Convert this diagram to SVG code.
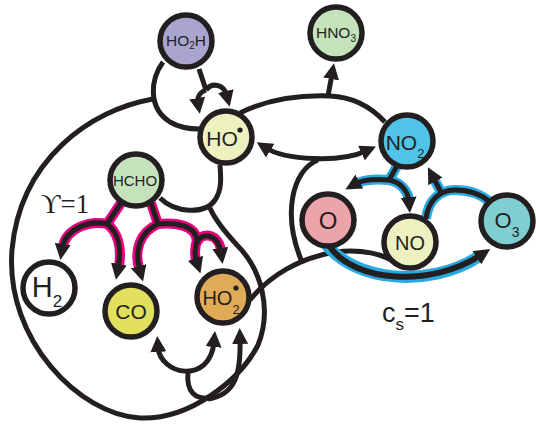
<svg xmlns="http://www.w3.org/2000/svg" width="536" height="425" viewBox="0 0 536 425">
<defs>
<marker id="ah" viewBox="0 0 16 16" refX="5" refY="8" markerWidth="16" markerHeight="16" markerUnits="userSpaceOnUse" orient="auto-start-reverse">
<path d="M0,0 L16,8 L0,16 Z" fill="#231f20"/>
</marker>
</defs>
<style>
.ln{fill:none;stroke:#231f20;stroke-width:5}
.thick{fill:none;stroke:#231f20;stroke-width:6}
.pk{fill:none;stroke:#e6007e;stroke-width:10}
.bl{fill:none;stroke:#27aae1;stroke-width:10}
.bl2{fill:none;stroke:#27aae1;stroke-width:12}
.end{marker-end:url(#ah)}
.start{marker-start:url(#ah)}
.both{marker-start:url(#ah);marker-end:url(#ah)}
.nd{stroke:#231f20;stroke-width:5.5}
.t{font-family:"Liberation Sans",Arial,sans-serif;fill:#231f20}
</style>
<g id="connectors">
<path class="ln" d="M163,62 C150,80 148,108 170,122 C180,128 190,129 200,129"/>
<path class="ln" d="M153,99 C90,110 20,160 12,250 C5,340 80,415 140,418 C190,420 240,380 258,345 C272,310 262,270 237,245 C225,232 215,220 210,208"/>
<path class="ln" d="M160,198 C175,213 205,215 215,200 C222,190 221,178 220,165"/>
<path class="ln" d="M240,113 C270,98 300,95 330,96 C355,97 372,108 385,122"/>
<path class="ln end" d="M328,96 L332,74"/>
<path class="ln both" d="M266,148 C285,160 340,163 366,151"/>
<path class="ln" d="M318,160 C292,170 282,215 302,262"/>
<path class="ln" d="M250,300 C270,275 300,258 335,252 C360,249 380,253 395,262"/>
<path class="ln both" d="M158,347 C160,375 210,385 214,342"/>
<path class="ln" d="M188,372 C186,392 195,400 212,398"/>
<path class="ln start" d="M240,339 C241,375 235,395 208,399"/>
<path class="ln" d="M199,69 L206,90"/>
<path class="ln end" d="M206,90 C212,82 224,84 227,96"/>
<path class="ln end" d="M206,90 C200,92 197,97 198,103"/>
<g>
<path class="pk" d="M121,203 L107,224"/>
<path class="pk" d="M107,224 C90,220 67,228 63,246"/>
<path class="pk" d="M107,224 C118,232 122,248 119,266"/>
<path class="pk" d="M151,203 L158,224"/>
<path class="pk" d="M158,224 C140,232 134,250 139,268"/>
<path class="pk" d="M158,224 C175,222 195,225 197,240"/>
<path class="pk" d="M197,240 C194,250 195,256 196,260"/>
<path class="pk" d="M197,243 C200,232 218,232 221,250"/>
</g>
<g>
<path class="ln" d="M121,203 L107,224"/>
<path class="ln end" d="M107,224 C90,220 65,228 62,249"/>
<path class="ln end" d="M107,224 C118,232 122,248 118,269"/>
<path class="ln" d="M151,203 L158,224"/>
<path class="ln end" d="M158,224 C140,232 134,250 140,271"/>
<path class="ln" d="M158,224 C175,222 195,225 197,240"/>
<path class="ln end" d="M197,240 C194,252 195,257 197,263"/>
<path class="ln end" d="M197,243 C200,232 218,232 221,253"/>
</g>
<g>
<path class="bl" d="M397,166 L389,180"/>
<path class="bl" d="M389,180 C375,179 364,180 358,183"/>
<path class="bl" d="M389,180 C400,182 407,190 409,199"/>
<path class="bl" d="M426,219 C428,200 440,190 455,190 C470,190 482,195 490,202"/>
<path class="bl" d="M441,192 L435,181"/>
<path class="bl2" d="M326,244 C355,282 430,288 478,257"/>
</g>
<g>
<path class="ln" d="M397,166 L389,180"/>
<path class="ln end" d="M389,180 C375,179 362,180 355,184"/>
<path class="ln end" d="M389,180 C400,182 408,190 409,202"/>
<path class="ln" d="M426,219 C428,200 440,190 455,190 C470,190 482,195 490,202"/>
<path class="ln end" d="M441,192 L433,177"/>
<path class="thick end" d="M330,247 C355,282 430,288 481,255"/>
</g>
</g>
<g id="HO2H"><circle class="nd" cx="186" cy="41" r="26" fill="#a9a5cf"/><text class="t" x="186" y="46" font-size="15.5" text-anchor="middle">HO<tspan font-size="10" dy="3">2</tspan><tspan dy="-3">H</tspan></text></g>
<g id="HNO3"><circle class="nd" cx="336" cy="33" r="26" fill="#c5e3bb"/><text class="t" x="336" y="38" font-size="15.5" text-anchor="middle">HNO<tspan font-size="10" dy="4">3</tspan></text></g>
<g id="HO"><circle class="nd" cx="226" cy="137" r="26" fill="#ecf1bf"/><text class="t" x="222" y="146" font-size="21" text-anchor="middle">HO</text><circle cx="240" cy="130" r="2.6" fill="#231f20"/></g>
<g id="NO2"><circle class="nd" cx="407" cy="141" r="26" fill="#4fc4e8"/><text class="t" x="405" y="150" font-size="21" text-anchor="middle">NO<tspan font-size="13" dy="8">2</tspan></text></g>
<g id="HCHO"><circle class="nd" cx="136" cy="180" r="26" fill="#c5e3bb"/><text class="t" x="135" y="185.5" font-size="15" text-anchor="middle">HCHO</text></g>
<g id="H2"><circle class="nd" cx="49" cy="288" r="26" fill="#ffffff"/><text class="t" x="47" y="297" font-size="29" text-anchor="middle">H<tspan font-size="17" dy="10">2</tspan></text></g>
<g id="CO"><circle class="nd" cx="131" cy="311" r="26" fill="#e2df5c"/><text class="t" x="131" y="319" font-size="21" text-anchor="middle">CO</text></g>
<g id="HO2"><circle class="nd" cx="223" cy="297" r="26" fill="#dfab57"/><text class="t" x="221" y="305" font-size="20" text-anchor="middle">HO<tspan font-size="13" dy="9">2</tspan></text><circle cx="236" cy="288" r="2.6" fill="#231f20"/></g>
<g id="O"><circle class="nd" cx="328" cy="220" r="26" fill="#eda3aa"/><text class="t" x="328" y="229" font-size="24" text-anchor="middle">O</text></g>
<g id="NO"><circle class="nd" cx="410" cy="242" r="26" fill="#ecf1bf"/><text class="t" x="410" y="250" font-size="20" text-anchor="middle">NO</text></g>
<g id="O3"><circle class="nd" cx="507" cy="221" r="26" fill="#7fcfd2"/><text class="t" x="507" y="228" font-size="22" text-anchor="middle">O<tspan font-size="14" dy="9">3</tspan></text></g>
<g id="labels">
<text x="41" y="213" font-family="'Liberation Serif','DejaVu Serif',serif" font-size="27" fill="#231f20">ϒ=1</text>
<text class="t" x="382" y="322" font-size="27">c<tspan font-size="17" dy="8">s</tspan><tspan dy="-8">=1</tspan></text>
</g>
</svg>
